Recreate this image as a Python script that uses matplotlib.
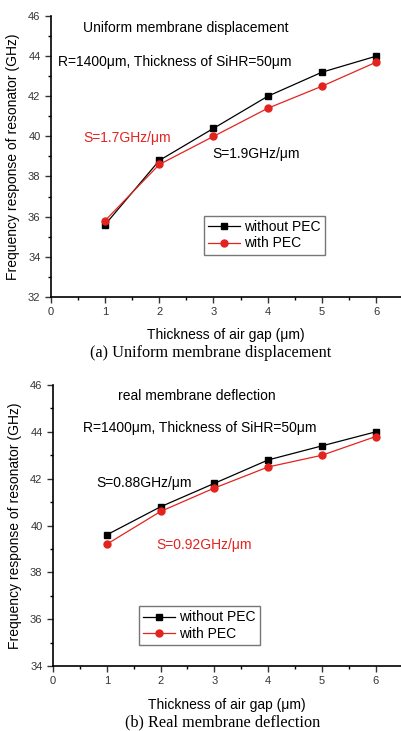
import matplotlib
matplotlib.use("Agg")
import matplotlib.pyplot as plt
from matplotlib.ticker import MultipleLocator

plt.rcParams['font.family'] = ['Liberation Sans', 'DejaVu Sans']

gap = [1, 2, 3, 4, 5, 6]

# (a) uniform membrane displacement
a_without = [35.6, 38.8, 40.4, 42.0, 43.2, 44.0]
a_with = [35.8, 38.6, 40.0, 41.4, 42.5, 43.7]

# (b) real membrane deflection
b_without = [39.6, 40.8, 41.8, 42.8, 43.4, 44.0]
b_with = [39.2, 40.6, 41.6, 42.5, 43.0, 43.8]

RED = '#e3231f'
FS = 10
fig = plt.figure(figsize=(4.01, 7.31), dpi=100)


def panel(rect, xmax, ylim, wo, wi):
    ax = fig.add_axes(rect)
    ax.plot(gap, wo, color='black', lw=0.9, marker='s', ms=4.5, label='without PEC')
    ax.plot(gap, wi, color=RED, lw=0.9, marker='o', ms=5, label='with PEC')
    ax.set_xlim(0, xmax)
    ax.set_ylim(*ylim)
    ax.spines['top'].set_visible(False)
    ax.spines['right'].set_visible(False)
    ax.spines['left'].set_linewidth(1.2)
    ax.spines['bottom'].set_linewidth(1.2)
    ax.xaxis.set_major_locator(MultipleLocator(1))
    ax.xaxis.set_minor_locator(MultipleLocator(0.5))
    ax.yaxis.set_major_locator(MultipleLocator(2))
    ax.yaxis.set_minor_locator(MultipleLocator(1))
    ax.tick_params(which='major', length=4, width=1, labelsize=8, colors='#333333')
    ax.tick_params(which='minor', length=2.5, width=1)
    ax.set_xlabel('Thickness of air gap (\u03bcm)', fontsize=FS, labelpad=8)
    ax.set_ylabel('Frequency response of resonator (GHz)', fontsize=FS, labelpad=6)
    return ax


ax1 = panel([0.127, 0.594, 0.873, 0.384], 6.46, (32, 46), a_without, a_with)
ax1.text(0.59, 45.4, 'Uniform membrane displacement', fontsize=FS, va='center')
ax1.text(0.13, 43.7, 'R=1400\u03bcm, Thickness of SiHR=50\u03bcm', fontsize=FS, va='center')
ax1.text(0.59, 39.9, 'S=1.7GHz/\u03bcm', fontsize=FS, va='center', color=RED)
ax1.text(2.97, 39.1, 'S=1.9GHz/\u03bcm', fontsize=FS, va='center')
ax1.legend(loc='upper left', bbox_to_anchor=(2.69 / 6.46, (36.4 - 32) / 14),
           fontsize=FS, frameon=True, fancybox=False, edgecolor='#555555',
           handlelength=2.3, borderpad=0.3, labelspacing=0.2, handletextpad=0.3)
fig.text(0.525, 1 - 353 / 731, '(a) Uniform membrane displacement',
         family='Liberation Serif', fontsize=11.7, ha='center', va='center')

ax2 = panel([0.132, 0.0889, 0.868, 0.3844], 6.47, (34, 46), b_without, b_with)
ax2.text(1.21, 45.53, 'real membrane deflection', fontsize=FS, va='center')
ax2.text(0.56, 44.16, 'R=1400\u03bcm, Thickness of SiHR=50\u03bcm', fontsize=FS, va='center')
ax2.text(0.8, 41.8, 'S=0.88GHz/\u03bcm', fontsize=FS, va='center')
ax2.text(1.93, 39.17, 'S=0.92GHz/\u03bcm', fontsize=FS, va='center', color=RED)
ax2.legend(loc='upper left', bbox_to_anchor=(1.47 / 6.47, (36.85 - 34) / 12),
           fontsize=FS, frameon=True, fancybox=False, edgecolor='#555555',
           handlelength=2.3, borderpad=0.3, labelspacing=0.2, handletextpad=0.3)
fig.text(0.555, 1 - 722 / 731, '(b) Real membrane deflection',
         family='Liberation Serif', fontsize=11.7, ha='center', va='center')

fig.savefig('out.png', dpi=100)
